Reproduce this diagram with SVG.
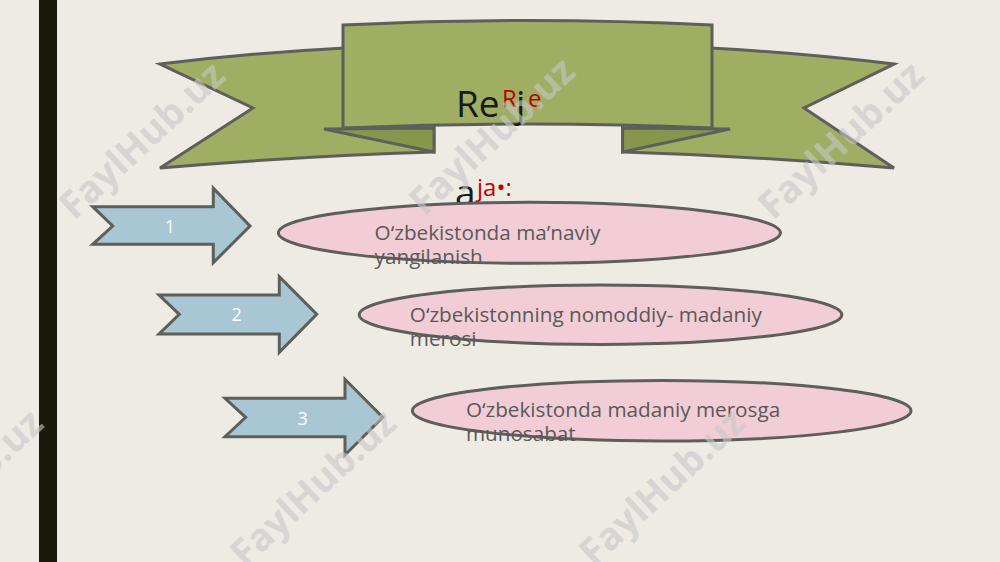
<svg xmlns="http://www.w3.org/2000/svg" width="1000" height="562" viewBox="0 0 1000 562">
<style>
.bg{fill:#eeebe4}
.edge{stroke:#5e5e5a;stroke-width:3;stroke-linejoin:miter}
.green{fill:#9fae62}
.fold{fill:#87964c}
.blue{fill:#a8c6d4}
.pink{fill:#f2cdd5}
.num{font-family:"Open Sans","Noto Sans",sans-serif;font-size:18px;fill:#ffffff;text-anchor:middle}
.item{font-family:"Open Sans","Noto Sans",sans-serif;font-size:20.7px;fill:#595959}
.tb{font-family:"Open Sans","Noto Sans",sans-serif;font-size:37px;fill:#1a1a1a}
.tr{font-family:"Open Sans","Noto Sans",sans-serif;font-size:24px;fill:#c00000}
.wm{font-family:"Open Sans","DejaVu Sans",sans-serif;font-weight:bold;font-size:38px;fill:#c8c8c8;opacity:0.6;text-anchor:middle}
</style>
<rect class="bg" x="0" y="0" width="1000" height="562"/>
<rect x="39" y="0" width="18" height="562" fill="#1a1a0c"/>

<g id="banner">
  <path class="green edge" d="M160,64 Q250,53 345,48 L434,48 L434,152 Q300,156 160,168 L253,108 Z"/>
  <path class="green edge" d="M894,64 Q804,53 710,48 L622.6,48 L622.6,152 Q757,156 894,168 L804,108 Z"/>
  <path class="fold edge" d="M324,129 L434,128 L434,152 Z"/>
  <path class="fold edge" d="M730,129 L622.6,128 L622.6,152 Z"/>
  <path class="green edge" d="M343,25 Q527.5,16 712,25 L712,128 Q527.5,120 343,128 Z"/>
</g>

<g id="title">
  <text class="tb" x="456" y="117">Re</text>
  <text class="tr" x="502" y="107">R</text>
  <text class="tb" x="516" y="117">j</text>
  <text class="tr" x="528" y="107">e</text>
  <text class="tb" x="455" y="206">a</text>
  <text class="tr" x="477" y="196">ja•:</text>
</g>

<g id="connectors"></g>

<g id="arrow1">
  <path class="blue edge" d="M92.7,206.7 L213.3,206.7 L213.3,188.3 L250,226 L213.3,262.7 L213.3,244.3 L92.7,244.3 L112.7,226 Z"/>
  <text class="num" x="170" y="233">1</text>
</g>
<g id="arrow2">
  <path class="blue edge" d="M159,295 L279.3,295 L279.3,276.7 L316.7,314.3 L279.3,352.3 L279.3,334 L159,334 L179.3,314.3 Z"/>
  <text class="num" x="236.7" y="321">2</text>
</g>
<g id="arrow3">
  <path class="blue edge" d="M225,398.3 L345,398.3 L345,379.3 L382.7,417.3 L345,455 L345,436.7 L225,436.7 L245.7,417.3 Z"/>
  <text class="num" x="302.7" y="424.5">3</text>
</g>

<g id="item1">
  <ellipse class="pink edge" cx="529.4" cy="232.8" rx="251" ry="30.5"/>
  <text class="item" x="374.6" y="240">O‘zbekistonda ma’naviy</text>
  <text class="item" x="374.6" y="264">yangilanish</text>
</g>
<g id="item2">
  <ellipse class="pink edge" cx="600.5" cy="314.7" rx="241.3" ry="29.7"/>
  <text class="item" x="409.8" y="322">O‘zbekistonning nomoddiy- madaniy</text>
  <text class="item" x="409.8" y="346">merosi</text>
</g>
<g id="item3">
  <ellipse class="pink edge" cx="661.7" cy="410.7" rx="249.3" ry="30.3"/>
  <text class="item" x="465.9" y="417">O‘zbekistonda madaniy merosga</text>
  <text class="item" x="465.9" y="441">munosabat</text>
</g>

<g id="watermarks">
  <text class="wm" transform="translate(142,140) rotate(-43)" x="0" y="13">FaylHub.uz</text>
  <text class="wm" transform="translate(492,136) rotate(-43)" x="0" y="13">FaylHub.uz</text>
  <text class="wm" transform="translate(841,140) rotate(-43)" x="0" y="13">FaylHub.uz</text>
  <text class="wm" transform="translate(-40,488) rotate(-43)" x="0" y="13">FaylHub.uz</text>
  <text class="wm" transform="translate(313,488) rotate(-43)" x="0" y="13">FaylHub.uz</text>
  <text class="wm" transform="translate(662,487) rotate(-43)" x="0" y="13">FaylHub.uz</text>
</g>
</svg>
